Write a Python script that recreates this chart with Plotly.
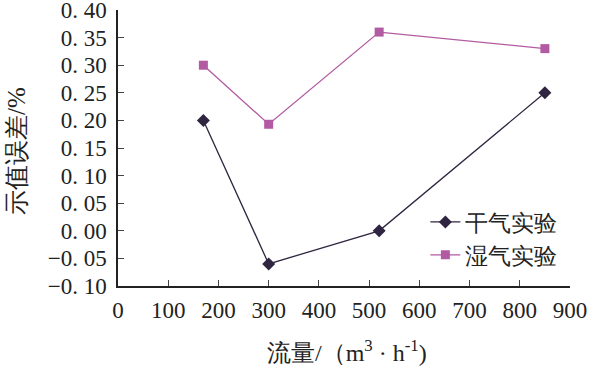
import plotly.graph_objects as go

flow = [170, 300, 520, 850]
dry = [0.20, -0.06, 0.00, 0.25]
wet = [0.30, 0.193, 0.36, 0.33]
series_names = ["干气实验", "湿气实验"]
y_ticks = [-0.10, -0.05, 0.00, 0.05, 0.10, 0.15, 0.20, 0.25, 0.30, 0.35, 0.40]
y_tick_text = ["−0. 10", "−0. 05", "0. 00", "0. 05", "0. 10", "0. 15", "0. 20", "0. 25", "0. 30", "0. 35", "0. 40"]
x_ticks = [0, 100, 200, 300, 400, 500, 600, 700, 800, 900]
x_title = "流量/（m<sup>3</sup> · h<sup>-1</sup>)"
y_title = "示值误差/%"

FONT = "Liberation Serif"
DRY_C = "#2f2540"
WET_C = "#b25aa2"

fig = go.Figure()
fig.add_trace(go.Scatter(x=flow, y=dry, name=series_names[0], mode="lines+markers",
                         line=dict(color=DRY_C, width=1.3),
                         marker=dict(symbol="diamond", size=10, color=DRY_C)))
fig.add_trace(go.Scatter(x=flow, y=wet, name=series_names[1], mode="lines+markers",
                         line=dict(color=WET_C, width=1.3),
                         marker=dict(symbol="square", size=9, color=WET_C)))

fig.update_layout(
    width=604, height=370,
    margin=dict(l=118, r=34, t=10, b=84),
    paper_bgcolor="white", plot_bgcolor="white",
    font=dict(family=FONT, size=22, color="#222"),
    showlegend=True,
    legend=dict(x=0.68, y=0.31, xanchor="left", yanchor="top",
                bgcolor="rgba(0,0,0,0)", font=dict(size=23, family=FONT),
                itemwidth=30, tracegroupgap=0),
    xaxis=dict(range=[0, 900], tickvals=x_ticks, ticks="inside", ticklen=6,
               showline=True, linecolor="#222", linewidth=1.5, showgrid=False, zeroline=False,
               tickfont=dict(size=23, family=FONT), automargin=False, ticklabeloverflow="allow",
               ticklabelstandoff=3),
    yaxis=dict(range=[-0.10, 0.40], tickvals=y_ticks, ticktext=y_tick_text, ticks="inside", ticklen=6,
               showline=True, linecolor="#222", linewidth=1.5, showgrid=False, zeroline=False,
               tickfont=dict(size=23, family=FONT), automargin=False, ticklabeloverflow="allow",
               ticklabelstandoff=5),
    annotations=[
        dict(text=x_title, xref="paper", yref="paper", x=0.507, y=-0.235, xanchor="center", yanchor="middle",
             showarrow=False, font=dict(size=24, family=FONT)),
        dict(text=y_title, xref="paper", yref="paper", x=-0.223, y=0.49, xanchor="center", yanchor="middle",
             textangle=-90, showarrow=False, font=dict(size=25, family=FONT)),
    ],
)

fig.write_html("out.html", config={"displayModeBar": False},
               post_script="document.body.style.margin='0';")
